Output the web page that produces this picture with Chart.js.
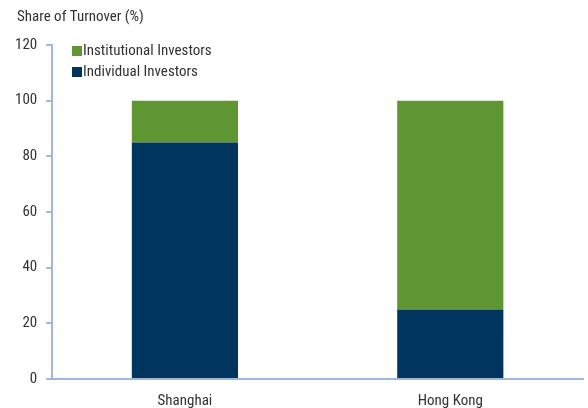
<!DOCTYPE html>
<html>
<head>
<meta charset="utf-8">
<script src="https://cdn.jsdelivr.net/npm/chart.js@4"></script>
<style>
  body { margin: 0; background: #fff; }
  #wrap { width: 588px; height: 408px; }
</style>
</head>
<body>
<div id="wrap"><canvas id="myChart" width="588" height="408"></canvas></div>
<script>
const markets = ['Shanghai', 'Hong Kong'];
const individual = [85, 25];
const institutional = [15, 75];
const yTicks = [0, 20, 40, 60, 80, 100, 120];

const fontFamily = "'Liberation Sans Narrow', 'Arial Narrow', 'Roboto Condensed', sans-serif";
const axisColor = '#9db8dc';
const textColor = '#333333';

// title + legend drawn on the canvas
const extras = {
  id: 'extras',
  afterDraw(chart) {
    const ctx = chart.ctx;
    ctx.save();
    ctx.fillStyle = textColor;
    ctx.font = '15px ' + fontFamily;
    ctx.textBaseline = 'middle';
    ctx.fillText('Share of Turnover (%)', 17, 17);
    const items = [
      { label: 'Institutional Investors', color: '#5e9732' },
      { label: 'Individual Investors', color: '#00355f' }
    ];
    items.forEach((it, i) => {
      const y = 51 + i * 21;
      ctx.fillStyle = it.color;
      ctx.fillRect(72, y - 5, 10, 10);
      ctx.fillStyle = textColor;
      ctx.fillText(it.label, 83, y);
    });
    ctx.restore();
  }
};

const ctx = document.getElementById('myChart').getContext('2d');
const myChart = new Chart(ctx, {
  type: 'bar',
  data: {
    labels: markets,
    datasets: [
      { label: 'Individual Investors', data: individual, backgroundColor: '#00355f', barPercentage: 0.8, categoryPercentage: 0.5 },
      { label: 'Institutional Investors', data: institutional, backgroundColor: '#5e9732', barPercentage: 0.8, categoryPercentage: 0.5 }
    ]
  },
  options: {
    responsive: false,
    animation: false,
    layout: { padding: { top: 45, left: 6, right: 5, bottom: -15 } },
    plugins: { legend: { display: false }, title: { display: false }, tooltip: { enabled: false } },
    scales: {
      x: {
        stacked: true,
        grid: { display: false, drawTicks: false },
        border: { color: axisColor, width: 2 },
        ticks: { color: textColor, font: { family: fontFamily, size: 15 }, padding: 13 }
      },
      y: {
        stacked: true,
        min: 0, max: 120,
        afterBuildTicks(axis) { axis.ticks = yTicks.map(v => ({ value: v })); },
        grid: { drawOnChartArea: false, drawTicks: true, tickLength: 6, color: axisColor, lineWidth: 2 },
        border: { color: axisColor, width: 2 },
        ticks: { color: textColor, font: { family: fontFamily, size: 15 }, padding: 9 }
      }
    }
  },
  plugins: [extras]
});
</script>
</body>
</html>
